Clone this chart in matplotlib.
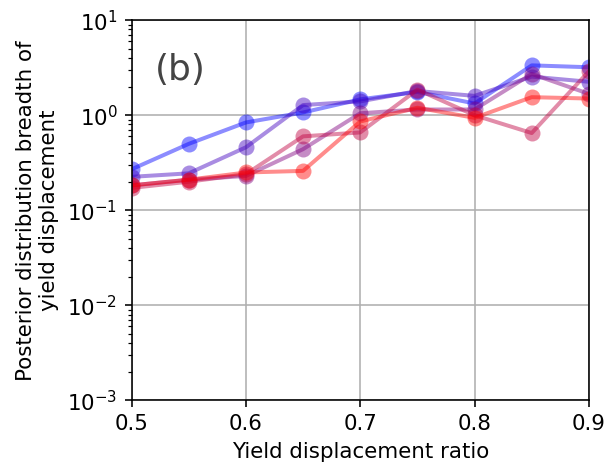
import matplotlib
matplotlib.use("Agg")
import matplotlib.pyplot as plt
import numpy as np

ratios = [0.5, 0.55, 0.6, 0.65, 0.7, 0.75, 0.8, 0.85, 0.9]
series_0 = [0.27, 0.50, 0.84, 1.07, 1.47, 1.76, 1.33, 3.35, 3.2]
series_1 = [0.225, 0.245, 0.46, 1.28, 1.40, 1.80, 1.60, 2.55, 2.25]
series_2 = [0.183, 0.21, 0.23, 0.44, 1.05, 1.15, 1.15, 2.72, 1.68]
series_3 = [0.172, 0.20, 0.24, 0.60, 0.66, 1.86, 1.0, 0.65, 2.9]
series_4 = [0.183, 0.21, 0.25, 0.26, 0.86, 1.2, 0.94, 1.55, 1.5]
all_series = [series_0, series_1, series_2, series_3, series_4]

x_label = "Yield displacement ratio"
y_label = "Posterior distribution breadth of\nyield displacement"
panel_tag = "(b)"

plt.rcParams['font.family'] = ['DejaVu Sans']
plt.rcParams['font.size'] = 10.7

fig = plt.figure(figsize=(609 / 144, 470 / 144), dpi=144)
ax = fig.add_axes([0.216, 0.148, 0.967 - 0.216, 0.957 - 0.148])

n = len(all_series)
for i, vals in enumerate(all_series):
    t = i / (n - 1)
    color = (t, 0.0, 1.0 - t)
    ax.plot(ratios, vals, '-o', color=color, alpha=0.45, lw=2,
            markersize=8, markeredgewidth=0)

ax.set_yscale('log')
ax.set_xlim(0.5, 0.9)
ax.set_ylim(1e-3, 1e1)
ax.set_xticks([0.5, 0.6, 0.7, 0.8, 0.9])
ax.grid(True, which='major', color='#b0b0b0', lw=0.8)
ax.set_xlabel(x_label)
ax.set_ylabel(y_label)
ax.text(0.05, 0.87, panel_tag, transform=ax.transAxes, fontsize=18,
        color='#444444', va='center', ha='left')

fig.savefig("out.png", dpi=144)
